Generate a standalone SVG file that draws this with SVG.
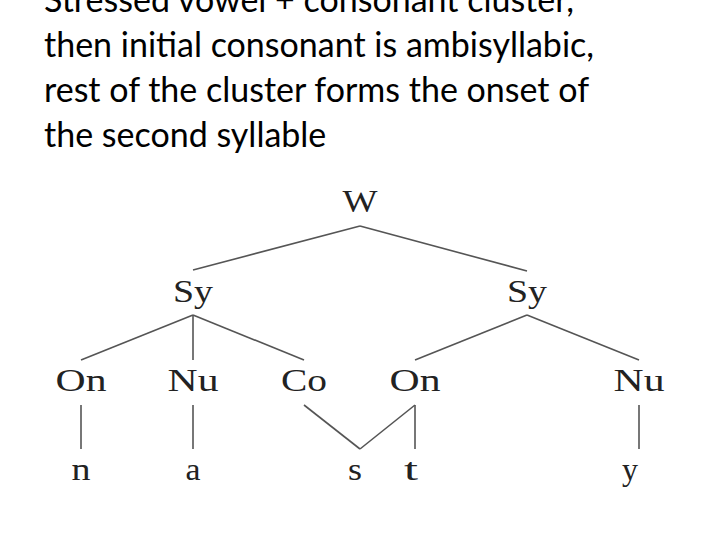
<svg xmlns="http://www.w3.org/2000/svg" width="720" height="540" viewBox="0 0 720 540">
<style>
.h{font-family:Lato,"Liberation Sans",sans-serif;font-size:34px;fill:#000}
.t{font-family:"Liberation Serif",serif;font-size:32px;fill:#222;text-anchor:middle}
.c line{stroke:#555;stroke-width:1.6}
</style>
<rect width="720" height="540" fill="#fff"/>
<g id="title">
<text class="h" x="44" y="12">Stressed vowel + consonant cluster,</text>
<text class="h" x="44" y="57">then initial consonant is ambisyllabic,</text>
<text class="h" x="44" y="102">rest of the cluster forms the onset of</text>
<text class="h" x="44" y="147">the second syllable</text>
</g>
<g class="c" id="connectors">
<line x1="360" y1="226" x2="193" y2="270"/>
<line x1="360" y1="226" x2="527" y2="271"/>
<line x1="193" y1="315" x2="81" y2="360"/>
<line x1="193" y1="315" x2="193" y2="360"/>
<line x1="193" y1="315" x2="304" y2="360"/>
<line x1="527" y1="315" x2="415" y2="360"/>
<line x1="527" y1="315" x2="639" y2="360"/>
<line x1="81" y1="405" x2="81" y2="449"/>
<line x1="193" y1="405" x2="193" y2="449"/>
<line x1="304" y1="405" x2="360" y2="449"/>
<line x1="415" y1="405" x2="360" y2="449"/>
<line x1="415" y1="405" x2="415" y2="449"/>
<line x1="639" y1="405" x2="639" y2="449"/>
</g>
<g id="W"><text class="t" x="360" y="212" textLength="35" lengthAdjust="spacingAndGlyphs">W</text></g>
<g id="Sy1"><text class="t" x="193" y="302" textLength="40" lengthAdjust="spacingAndGlyphs">Sy</text></g>
<g id="Sy2"><text class="t" x="527" y="302" textLength="40" lengthAdjust="spacingAndGlyphs">Sy</text></g>
<g id="On1"><text class="t" x="81" y="391" textLength="51" lengthAdjust="spacingAndGlyphs">On</text></g>
<g id="Nu1"><text class="t" x="193" y="391" textLength="51" lengthAdjust="spacingAndGlyphs">Nu</text></g>
<g id="Co"><text class="t" x="304" y="391" textLength="46" lengthAdjust="spacingAndGlyphs">Co</text></g>
<g id="On2"><text class="t" x="415" y="391" textLength="51" lengthAdjust="spacingAndGlyphs">On</text></g>
<g id="Nu2"><text class="t" x="639" y="391" textLength="51" lengthAdjust="spacingAndGlyphs">Nu</text></g>
<g id="n"><text class="t" x="81" y="480" textLength="19" lengthAdjust="spacingAndGlyphs">n</text></g>
<g id="a"><text class="t" x="193" y="480" textLength="15" lengthAdjust="spacingAndGlyphs">a</text></g>
<g id="s"><text class="t" x="355" y="480" textLength="14" lengthAdjust="spacingAndGlyphs">s</text></g>
<g id="t"><text class="t" x="411" y="480" textLength="14" lengthAdjust="spacingAndGlyphs">t</text></g>
<g id="y"><text class="t" x="630" y="480" textLength="16" lengthAdjust="spacingAndGlyphs">y</text></g>
</svg>
